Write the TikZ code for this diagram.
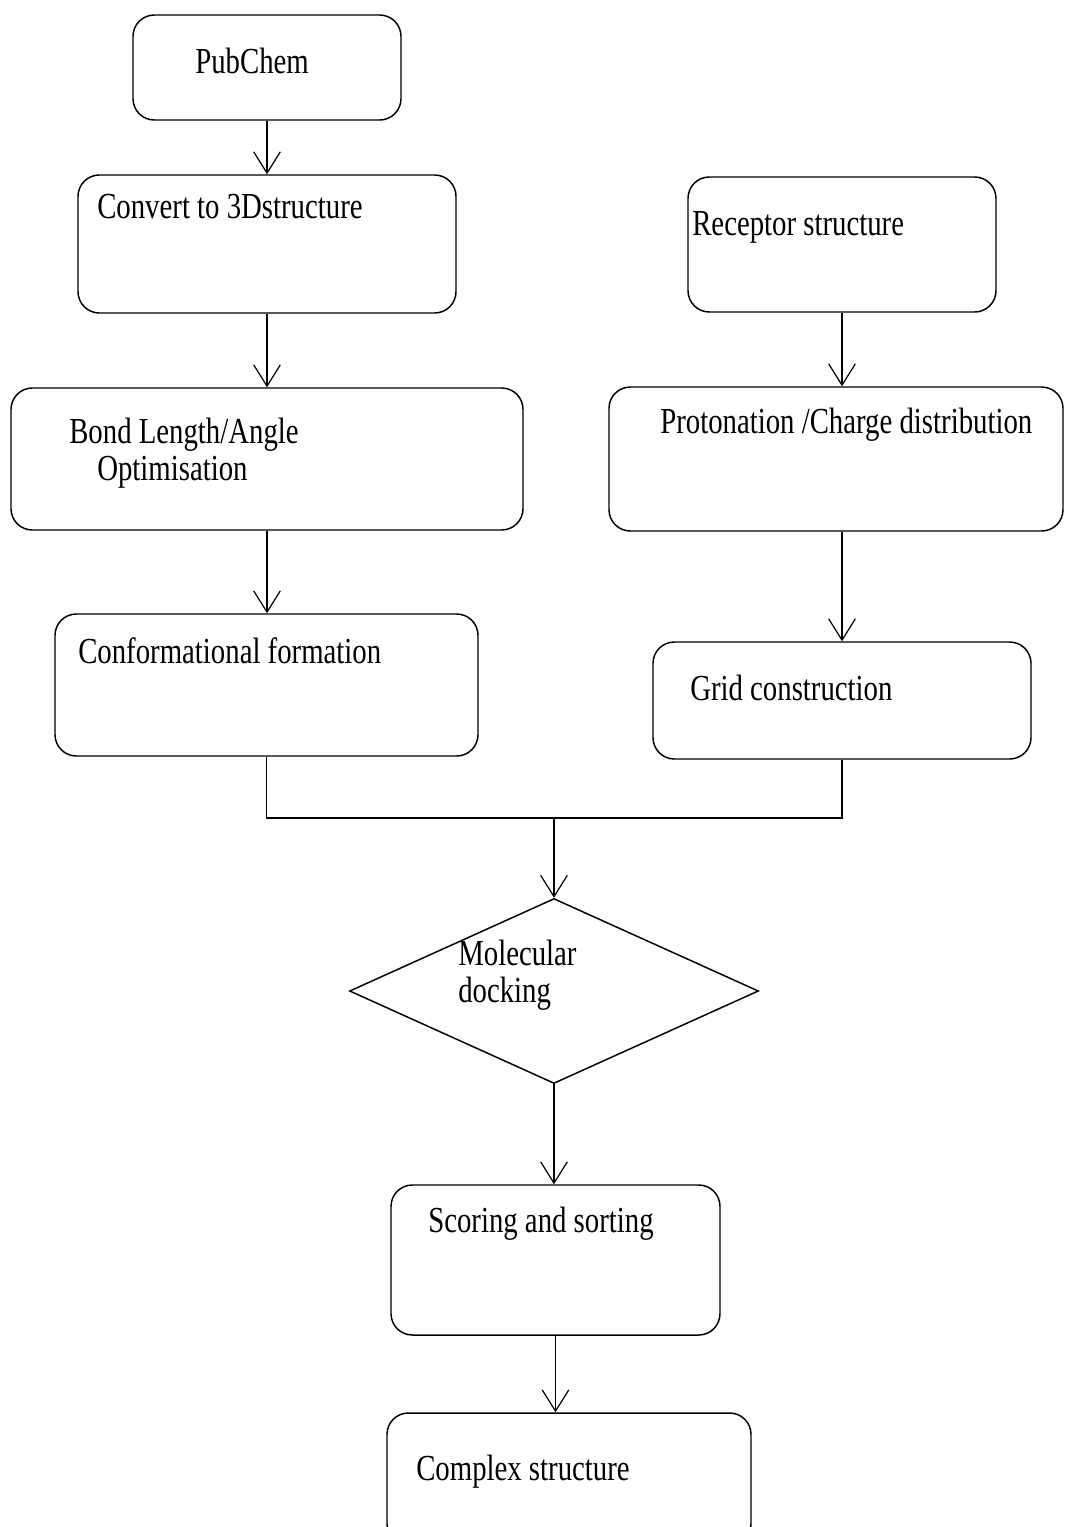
\documentclass[tikz,border=0pt]{standalone}
\usepackage{fontspec}
\setmainfont{Liberation Serif}[FakeStretch=0.785]
\usetikzlibrary{arrows.meta,shapes.geometric}

\begin{document}
\begin{tikzpicture}[x=0.75pt,y=-0.75pt,
  flowbox/.style={draw, rounded corners=16pt, line width=1.1pt, inner sep=0pt},
  flowtext/.style={anchor=base west, inner sep=0pt, font=\fontsize{27.5pt}{27.75pt}\selectfont},
  flowarrow/.style={-{Straight Barb[length=16pt,width=20pt,line width=0.9pt]}, line width=1.1pt}]
\useasboundingbox (0,0) rectangle (1064,1527);

\node[flowbox, minimum width=201pt, minimum height=78.75pt] (pubchem) at (267,67.5) {};
\node[flowbox, minimum width=283.5pt, minimum height=103.5pt] (convert) at (267,244) {};
\node[flowbox, minimum width=231pt, minimum height=101.25pt] (receptor) at (842,244.5) {};
\node[flowbox, minimum width=384pt, minimum height=106.5pt] (bond) at (267,459) {};
\node[flowbox, minimum width=340.5pt, minimum height=108pt] (proton) at (836,459) {};
\node[flowbox, minimum width=317.25pt, minimum height=106.5pt] (conform) at (266.5,685) {};
\node[flowbox, minimum width=283.5pt, minimum height=87.75pt] (grid) at (842,700.5) {};
\node[draw, diamond, aspect=2.2, line width=1.1pt, inner sep=0pt, minimum width=306.75pt, minimum height=138.75pt] (docking) at (554,991) {};
\node[flowbox, minimum width=246.75pt, minimum height=112.5pt] (scoring) at (555.5,1260) {};
\node[flowbox, minimum width=273pt, minimum height=99pt] (complex) at (569,1479) {};

\node[flowtext] (pubchem-txt) at (195,74) {PubChem};
\node[flowtext] (convert-txt) at (97,218) {Convert to 3Dstructure};
\node[flowtext] (receptor-txt) at (692,235) {Receptor structure};
\node[flowtext] (bond-txt) at (69,443) {Bond Length/Angle};
\node[flowtext] (bond-txt2) at (97,480) {Optimisation};
\node[flowtext] (proton-txt) at (660,433) {Protonation /Charge distribution};
\node[flowtext] (conform-txt) at (78,663) {Conformational formation};
\node[flowtext] (grid-txt) at (690,700) {Grid construction};
\node[flowtext] (docking-txt) at (458,965) {Molecular};
\node[flowtext] (docking-txt2) at (458,1002) {docking};
\node[flowtext] (scoring-txt) at (428,1232) {Scoring and sorting};
\node[flowtext] (complex-txt) at (416,1480) {Complex structure};

\draw[flowarrow] (pubchem.south) -- (pubchem.south |- convert.north);
\draw[flowarrow] (convert.south) -- (convert.south |- bond.north);
\draw[flowarrow] (bond.south) -- (bond.south |- conform.north);
\draw[flowarrow] (receptor.south) -- (receptor.south |- proton.north);
\draw[flowarrow] (receptor.south |- proton.south) -- (receptor.south |- grid.north);

\coordinate (join) at (554,818);
\draw[line width=1.1pt] (conform.south) |- (join) -| (grid.south);
\draw[flowarrow] (join) -- (docking.north);
\draw[flowarrow] (docking.south) -- (docking.south |- scoring.north);
\draw[flowarrow] (scoring.south) -- (scoring.south |- complex.north);
\end{tikzpicture}
\end{document}
